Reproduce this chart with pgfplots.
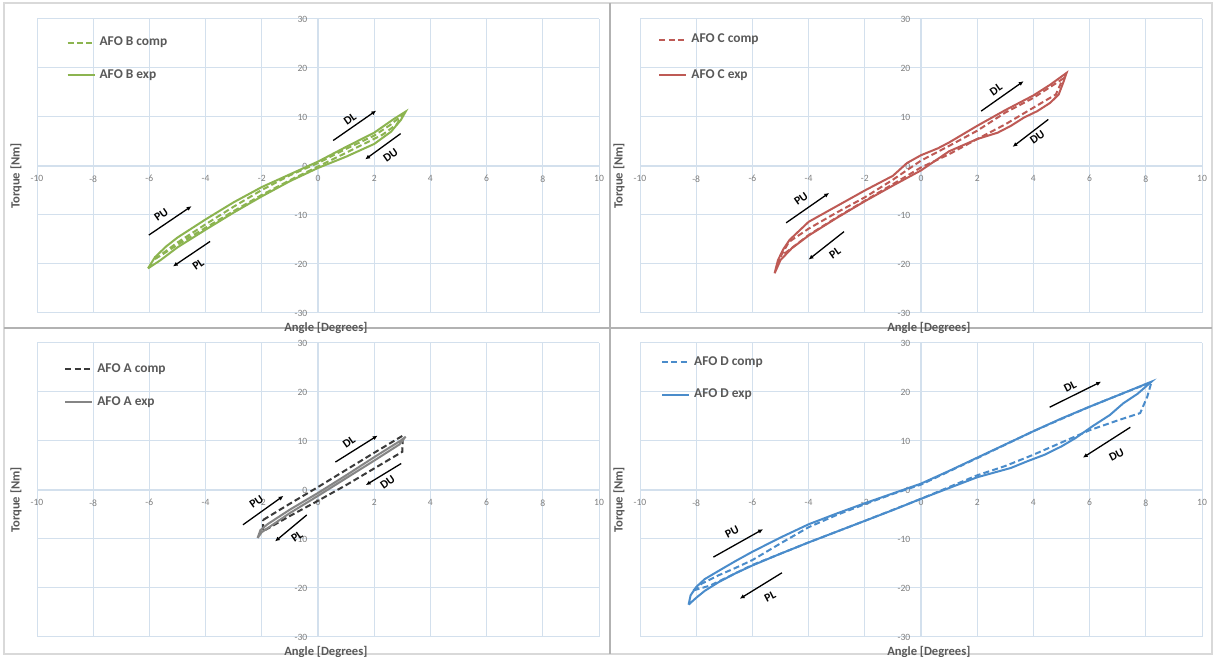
\documentclass[border=0pt]{standalone}
\usepackage{fontspec}
\setmainfont{Carlito}
\usepackage{pgfplots}
\pgfplotsset{compat=1.18}
\usetikzlibrary{arrows.meta}

\definecolor{gridc}{HTML}{D3E0ED}
\definecolor{tickc}{HTML}{808080}
\definecolor{labc}{HTML}{595959}
\definecolor{afoB}{HTML}{8CB450}
\definecolor{afoC}{HTML}{BE5A55}
\definecolor{afoAc}{HTML}{3A3A3A}
\definecolor{afoAe}{HTML}{858585}
\definecolor{afoD}{HTML}{4A8CCB}

\tikzset{
  ann/.style={black, line width=0.65pt, -{Latex[length=2.4pt,width=2.2pt]}},
  annl/.style={font=\bfseries\fontsize{5.8}{7}\selectfont, text=black},
}
\pgfplotsset{
  afo/.style={
    scale only axis, width=281pt, height=147pt,
    xmin=-10, xmax=10, ymin=-30, ymax=30,
    axis lines=middle,
    axis line style={gridc, line width=0.7pt, -},
    xtick={-10,-8,...,10}, ytick={-30,-20,...,30},
    grid=major, major grid style={gridc, line width=0.5pt},
    major tick length=0pt,
    hide obscured x ticks=false, hide obscured y ticks=false,
    /pgf/number format/assume math mode=true,
    tick label style={font=\fontsize{4.8}{5.5}\selectfont, text=tickc},
    xticklabel style={yshift=-1.2pt},
    yticklabel style={xshift=-1.8pt},
    xlabel={Angle [Degrees]}, ylabel={Torque [Nm]},
    label style={font=\bfseries\fontsize{6.3}{7.5}\selectfont, text=labc},
    x label style={at={(axis description cs:0.514,-0.008)}, anchor=north},
    y label style={at={(axis description cs:-0.015,0.466)}, anchor=south, rotate=90},
    legend style={draw=none, fill=none, anchor=north west, inner sep=0pt,
      font=\bfseries\fontsize{6.7}{8}\selectfont, text=labc,
      row sep=6.5pt, cells={anchor=west}},
    legend image code/.code={\draw[#1] (0pt,0pt) -- (13.5pt,0pt);},
    clip=false,
  },
  comp/.style={line width=1pt, dash pattern=on 3pt off 1.6pt},
  exp/.style={line width=1pt},
}

\begin{document}
\begin{tikzpicture}
\path[use as bounding box] (0,0) rectangle (608pt,328.5pt);
\fill[white] (0,0) rectangle (608pt,328.5pt);
\draw[gray!30, line width=0.6pt] (2pt,1.5pt) rectangle (606pt,327pt);
\draw[gray!60, line width=0.6pt] (305pt,1.5pt) -- (305pt,327pt);
\draw[gray!60, line width=0.6pt] (2pt,164.5pt) -- (606pt,164.5pt);

% AFO B (top left)
\begin{axis}[afo, at={(18.5pt,172pt)}, anchor=south west,
  legend style={at={(0.052,0.955)}}]
\addplot[afoB, comp] coordinates {
  (-5.8,-19.0) (-5,-15.6) (-4,-11.9) (-3,-8.3) (-2,-4.9) (-1,-1.9) (0,0.6)
  (1,3.5) (2,6.2) (2.6,8.5) (3.02,10.5) (2.8,8.5) (2.3,6.4) (1,2.7) (0,-0.1)
  (-1,-2.9) (-2,-5.9) (-3,-9.2) (-4,-12.6) (-5,-16.1) (-5.8,-19.0)};
\addlegendentry{AFO B comp}
\addplot[afoB, exp] coordinates {
  (-6.05,-20.9) (-5.8,-18.6) (-5.4,-16.4) (-5,-14.6) (-4,-10.9) (-3,-7.4)
  (-2,-4.3) (-1,-1.7) (0,0.9) (1,3.9) (2,6.8) (2.7,9.6) (3.12,11.1)
  (2.95,9.4) (2.6,7.0) (2,4.5) (1,1.9) (0,-0.4) (-1,-3.1) (-2,-6.2)
  (-3,-9.5) (-4,-13.0) (-5,-16.6) (-5.6,-19.2) (-6.05,-20.9)};
\addlegendentry{AFO B exp}
\draw[ann] (axis cs:0.54,5.2) -- (axis cs:2.07,11.3);
\node[annl, rotate=35] at (axis cs:1.14,9.6) {DL};
\draw[ann] (axis cs:2.94,6.6) -- (axis cs:1.68,1.35);
\node[annl, rotate=35] at (axis cs:2.58,2.2) {DU};
\draw[ann] (axis cs:-6.02,-14.1) -- (axis cs:-4.5,-8.2);
\node[annl, rotate=35] at (axis cs:-5.58,-10.0) {PU};
\draw[ann] (axis cs:-3.84,-15.4) -- (axis cs:-5.16,-20.5);
\node[annl, rotate=35] at (axis cs:-4.26,-20.1) {PL};
\end{axis}

% AFO C (top right)
\begin{axis}[afo, at={(320pt,172pt)}, anchor=south west,
  legend style={at={(0.032,0.965)}, row sep=8pt}]
\addplot[afoC, comp] coordinates {
  (-5.0,-18.5) (-4.7,-15.5) (-4,-12.8) (-3,-9.5) (-2,-6.4) (-1,-2.8) (0,1.1)
  (1,4.1) (2,7.2) (3,10.9) (4,13.9) (5.05,17.8) (4.8,14.6) (4,11.9) (3,8.5)
  (2,5.5) (1,2.4) (0,-0.3) (-1,-3.7) (-2,-7.1) (-3,-10.5) (-4,-14.1) (-5,-18.5)};
\addlegendentry{AFO C comp}
\addplot[afoC, exp] coordinates {
  (-5.21,-21.9) (-5.09,-19.2) (-4.9,-17.0) (-4.68,-15.1) (-4,-11.4) (-3,-8.2)
  (-2,-5.0) (-1,-2.0) (-0.5,0.6) (0,2.2) (0.6,3.6) (1,4.8) (2,8.2) (3,11.4)
  (4,14.4) (4.6,16.6) (5.18,19.0) (5.08,17.3) (4.9,14.6) (4.6,12.9) (4.14,11.2)
  (3.67,9.9) (3.2,8.2) (2.73,6.8) (2,5.5) (1,3.0) (0,-0.9) (-1,-4.0)
  (-2,-7.2) (-3,-10.6) (-4,-14.2) (-4.6,-16.8) (-5,-19.2) (-5.21,-21.9)};
\addlegendentry{AFO C exp}
\draw[ann] (axis cs:2.14,11.2) -- (axis cs:3.65,17.3);
\node[annl, rotate=35] at (axis cs:2.67,15.6) {DL};
\draw[ann] (axis cs:4.53,9.5) -- (axis cs:3.26,3.9);
\node[annl, rotate=35] at (axis cs:4.14,5.8) {DU};
\draw[ann] (axis cs:-4.8,-11.6) -- (axis cs:-3.27,-5.5);
\node[annl, rotate=35] at (axis cs:-4.27,-6.7) {PU};
\draw[ann] (axis cs:-2.74,-13.4) -- (axis cs:-4.0,-19.1);
\node[annl, rotate=35] at (axis cs:-3.06,-17.8) {PL};
\end{axis}

% AFO A (bottom left)
\begin{axis}[afo, at={(18.5pt,10pt)}, anchor=south west,
  legend style={at={(0.048,0.945)}}]
\addplot[afoAc, comp] coordinates {
  (-1.95,-6.1) (-1,-2.8) (0,0.6) (1,4.1) (2,7.6) (3.02,11.1) (3.0,7.8)
  (2,4.4) (1,1.0) (0,-2.2) (-1,-5.3) (-1.95,-8.4) (-1.95,-6.1)};
\addlegendentry{AFO A comp}
\addplot[afoAe, exp] coordinates {
  (-2.15,-9.8) (-2.05,-8.2) (-1.8,-7.0) (-1,-4.0) (0,-0.6) (1,3.0) (2,6.7)
  (3.0,10.3) (3.12,10.9) (2.9,9.3) (2,6.0) (1,2.4) (0,-1.2) (-1,-4.7)
  (-2,-8.6) (-2.15,-9.8)};
\addlegendentry{AFO A exp}
\draw[ann] (axis cs:0.62,5.7) -- (axis cs:2.12,11.1);
\node[annl, rotate=35] at (axis cs:1.1,9.8) {DL};
\draw[ann] (axis cs:2.96,5.4) -- (axis cs:1.7,1.0);
\node[annl, rotate=35] at (axis cs:2.48,1.5) {DU};
\draw[ann] (axis cs:-2.67,-7.1) -- (axis cs:-1.23,-1.2);
\node[annl, rotate=35] at (axis cs:-2.19,-2.4) {PU};
\draw[ann] (axis cs:-0.4,-5.1) -- (axis cs:-1.53,-10.5);
\node[annl, rotate=35] at (axis cs:-0.75,-9.5) {PL};
\end{axis}

% AFO D (bottom right)
\begin{axis}[afo, at={(320pt,10pt)}, anchor=south west,
  legend style={at={(0.037,0.97)}}]
\addplot[afoD, comp] coordinates {
  (-8.1,-20.5) (-7.8,-19.1) (-7.2,-17.4) (-6.6,-15.9) (-6,-14.3) (-5,-10.9)
  (-4,-7.6) (-3,-5.1) (-2,-2.9) (-1,-0.8) (0,1.1) (2,6.5) (4,12.0) (6,17.0)
  (7,19.3) (8.2,22.0) (8.05,19.0) (7.8,15.7) (7,14.2) (6,12.2) (5,9.7) (4,7.2)
  (3,4.9) (2,3.0) (0,-1.8) (-2,-6.3) (-4,-10.7) (-6,-15.3) (-7.5,-19.5)
  (-8.1,-20.5)};
\addlegendentry{AFO D comp}
\addplot[afoD, exp] coordinates {
  (-8.27,-23.4) (-8.2,-21.5) (-8.0,-19.8) (-7.7,-18.2) (-7.2,-16.5)
  (-6.6,-14.5) (-6,-12.6) (-5,-9.7) (-4,-7.0) (-3,-4.8) (-2,-2.7) (-1,-0.7)
  (0,1.3) (1,3.9) (2,6.6) (3,9.3) (4,12.0) (5,14.6) (6,17.0) (7,19.3)
  (7.6,20.7) (8.2,22.1) (7.7,19.6) (7.2,17.7) (6.72,15.3) (6.1,13.0)
  (5.5,10.6) (5.0,8.9) (4.4,7.2) (3.8,5.9) (3.2,4.5) (2,2.6) (1,0.4)
  (0,-1.8) (-1,-4.1) (-2,-6.3) (-3,-8.5) (-4,-10.7) (-5,-13.0) (-6,-15.4)
  (-6.6,-17.0) (-7.2,-18.8) (-7.7,-20.6) (-8.0,-22.0) (-8.27,-23.4)};
\addlegendentry{AFO D exp}
\draw[ann] (axis cs:4.58,16.9) -- (axis cs:6.41,22.1);
\node[annl, rotate=27] at (axis cs:5.31,21.1) {DL};
\draw[ann] (axis cs:7.45,12.8) -- (axis cs:5.76,6.6);
\node[annl, rotate=27] at (axis cs:6.96,7.2) {DU};
\draw[ann] (axis cs:-7.39,-13.7) -- (axis cs:-5.62,-8.0);
\node[annl, rotate=27] at (axis cs:-6.72,-8.6) {PU};
\draw[ann] (axis cs:-4.95,-16.9) -- (axis cs:-6.45,-22.2);
\node[annl, rotate=27] at (axis cs:-5.37,-21.8) {PL};
\end{axis}
\end{tikzpicture}
\end{document}
